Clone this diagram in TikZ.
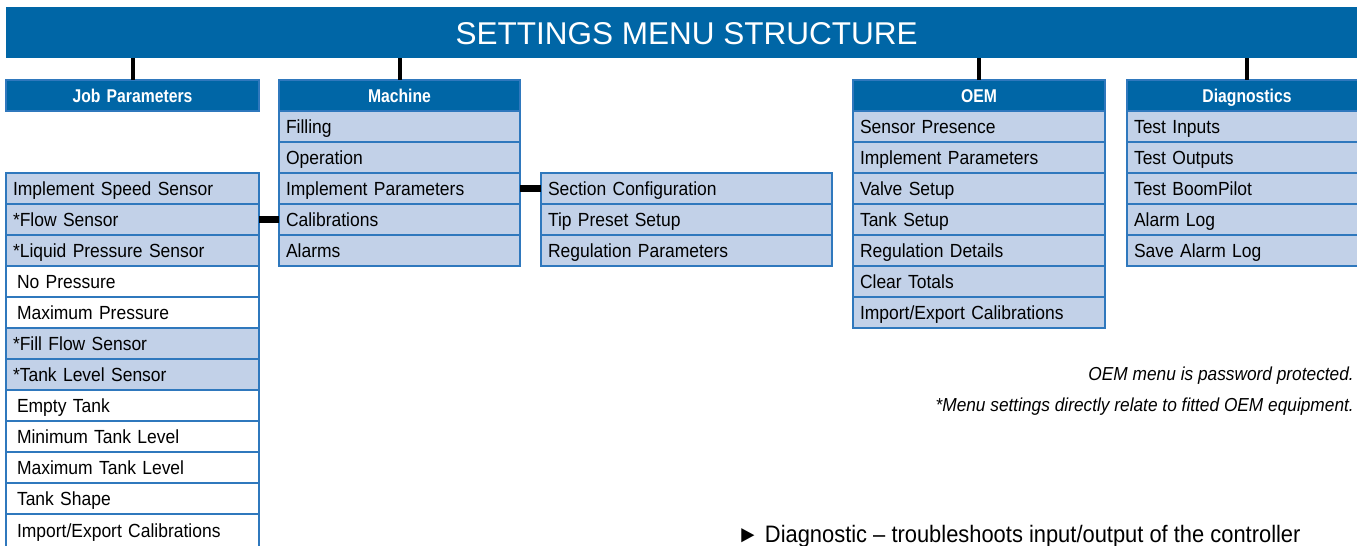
\documentclass[tikz,border=0pt]{standalone}
\usepackage{fontspec}
\setmainfont{Liberation Sans}
\newfontfamily\headfont[FakeStretch=0.85]{Liberation Sans}
\newfontfamily\rowfont[FakeStretch=0.92]{Liberation Sans}
\usetikzlibrary{positioning}
\definecolor{MenuBlue}{HTML}{0066A6}
\definecolor{RowFill}{HTML}{C2D1E8}
\definecolor{RowLine}{HTML}{2F78BD}
\tikzset{
  titlebar/.style={
    fill=MenuBlue, text=white, anchor=north west, inner sep=0pt,
    minimum width=1361pt, minimum height=51pt,
    text height=23pt, text depth=0.4pt, font=\fontsize{31.5}{36}\selectfont
  },
  menuhead/.style={
    draw=RowLine, line width=1.2pt, fill=MenuBlue, text=white,
    minimum height=31pt, outer sep=0pt, inner ysep=0pt, inner xsep=7pt,
    align=center, text height=14.5pt, text depth=1pt,
    font=\headfont\bfseries\fontsize{18.5}{20}\selectfont
  },
  menurow/.style={
    draw=RowLine, line width=1.2pt, fill=RowFill,
    minimum height=31pt, outer sep=0pt, inner ysep=0pt, inner xsep=7pt,
    align=left, text height=15pt, text depth=1pt,
    font=\rowfont\fontsize{19}{22}\selectfont
  },
  plainrow/.style={menurow, fill=white, execute at begin node={\hspace*{4pt}}},
  lastrow/.style={minimum height=37pt, text height=12pt, text depth=3pt},
  jobcol/.style={text width=239pt},
  maccol/.style={text width=227pt},
  seccol/.style={text width=277pt},
  oemcol/.style={text width=238pt},
  diagcol/.style={text width=226pt},
  stem/.style={draw=black, line width=4pt},
  link/.style={draw=black, line width=6.5pt},
  note/.style={inner sep=0pt, font=\rowfont\itshape\fontsize{18.8}{22}\selectfont}
}
\begin{document}
\begin{tikzpicture}[x=1pt,y=-1pt,node distance=0pt]
  \useasboundingbox (0,0) rectangle (1357,546);
  \node[titlebar] (title) at (6,7) {SETTINGS MENU STRUCTURE};

  % job parameters
  \node[menuhead,jobcol,anchor=north west] (jobhead) at (6,80) {Job Parameters};
  \node[menurow,jobcol,anchor=north west] (jspeed) at (6,173) {Implement Speed Sensor};
  \node[menurow,jobcol,below=of jspeed] (jflow) {*Flow Sensor};
  \node[menurow,jobcol,below=of jflow] (jpress) {*Liquid Pressure Sensor};
  \node[plainrow,jobcol,below=of jpress] (jnopress) {No Pressure};
  \node[plainrow,jobcol,below=of jnopress] (jmaxpress) {Maximum Pressure};
  \node[menurow,jobcol,below=of jmaxpress] (jfill) {*Fill Flow Sensor};
  \node[menurow,jobcol,below=of jfill] (jlevel) {*Tank Level Sensor};
  \node[plainrow,jobcol,below=of jlevel] (jempty) {Empty Tank};
  \node[plainrow,jobcol,below=of jempty] (jmin) {Minimum Tank Level};
  \node[plainrow,jobcol,below=of jmin] (jmax) {Maximum Tank Level};
  \node[plainrow,jobcol,below=of jmax] (jshape) {Tank Shape};
  \node[plainrow,jobcol,lastrow,below=of jshape] (jimport) {Import/Export Calibrations};

  % machine
  \node[menuhead,maccol,right=20pt of jobhead] (machead) {Machine};
  \node[menurow,maccol,below=of machead] (mfill) {Filling};
  \node[menurow,maccol,below=of mfill] (mop) {Operation};
  \node[menurow,maccol,below=of mop] (mimpl) {Implement Parameters};
  \node[menurow,maccol,below=of mimpl] (mcal) {Calibrations};
  \node[menurow,maccol,below=of mcal] (malarm) {Alarms};

  \node[menurow,seccol,right=21pt of mimpl] (sconf) {Section Configuration};
  \node[menurow,seccol,below=of sconf] (stip) {Tip Preset Setup};
  \node[menurow,seccol,below=of stip] (sreg) {Regulation Parameters};

  % oem
  \node[menuhead,oemcol,anchor=north west] (oemhead) at (853,80) {OEM};
  \node[menurow,oemcol,below=of oemhead] (osensor) {Sensor Presence};
  \node[menurow,oemcol,below=of osensor] (oimpl) {Implement Parameters};
  \node[menurow,oemcol,below=of oimpl] (ovalve) {Valve Setup};
  \node[menurow,oemcol,below=of ovalve] (otank) {Tank Setup};
  \node[menurow,oemcol,below=of otank] (oreg) {Regulation Details};
  \node[menurow,oemcol,below=of oreg] (oclear) {Clear Totals};
  \node[menurow,oemcol,below=of oclear] (oimport) {Import/Export Calibrations};

  % diagnostics
  \node[menuhead,diagcol,right=22pt of oemhead] (diaghead) {Diagnostics};
  \node[menurow,diagcol,below=of diaghead] (dinputs) {Test Inputs};
  \node[menurow,diagcol,below=of dinputs] (doutputs) {Test Outputs};
  \node[menurow,diagcol,below=of doutputs] (dboom) {Test BoomPilot};
  \node[menurow,diagcol,below=of dboom] (dlog) {Alarm Log};
  \node[menurow,diagcol,below=of dlog] (dsave) {Save Alarm Log};

  \draw[stem] (jobhead.north) -- (jobhead.north |- title.south);
  \draw[stem] (machead.north) -- (machead.north |- title.south);
  \draw[stem] (oemhead.north) -- (oemhead.north |- title.south);
  \draw[stem] (diaghead.north) -- (diaghead.north |- title.south);
  \draw[link] (jflow.east) -- (mcal.west);
  \draw[link] (mimpl.east) -- (sconf.west);

  \node[note,anchor=base east] (pwnote) at (1354,380) {OEM menu is password protected.};
  \node[note,anchor=base east] (eqnote) at (1354,411) {*Menu settings directly relate to fitted OEM equipment.};
  \node[inner sep=0pt,anchor=base west,font=\rowfont\fontsize{23.8}{26}\selectfont] (diagnote) at (737,542)
    {► Diagnostic – troubleshoots input/output of the controller};
\end{tikzpicture}
\end{document}
